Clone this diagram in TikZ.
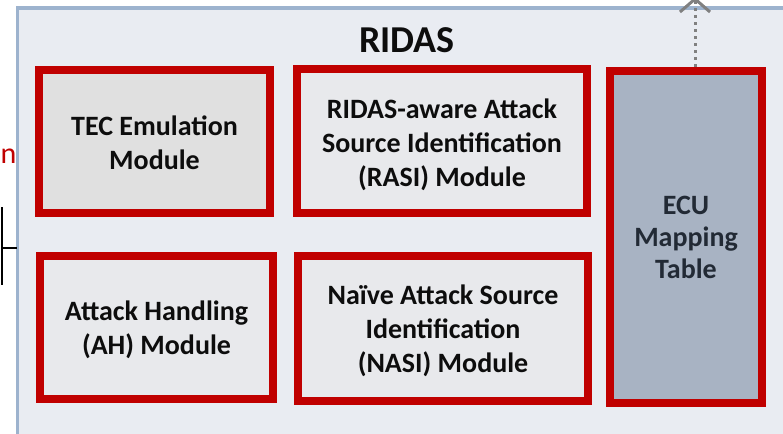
\documentclass[tikz,border=0pt]{standalone}
\usepackage{fontspec}
\setmainfont{Carlito}
\usetikzlibrary{arrows.meta}
\definecolor{frameblue}{HTML}{9DB3CE}
\definecolor{framefill}{HTML}{E9ECF2}
\definecolor{boxred}{HTML}{C00000}
\definecolor{modfill}{HTML}{E8E9EC}
\definecolor{tecfill}{HTML}{E0E0E0}
\definecolor{ecufill}{HTML}{A8B3C3}
\definecolor{ecutext}{HTML}{222A35}
\definecolor{txt}{HTML}{0D0D0D}
\tikzset{
  modbox/.style={draw=boxred, line width=8pt, fill=modfill, inner sep=0pt},
  modtext/.style={align=center, inner sep=0pt, font=\bfseries\fontsize{28}{34}\selectfont, text=txt},
}
\begin{document}
\begin{tikzpicture}[x=1pt,y=-1pt]
\useasboundingbox (0,0) rectangle (783,433);
\begin{scope}
\clip (0,0) rectangle (783,433);
\draw[draw=frameblue, fill=framefill, line width=3.5pt] (17.5,8) rectangle (820,470);
\node[modbox, fill=tecfill, minimum width=231pt, minimum height=143pt,
  label={[modtext, yshift=-1pt]center:{TEC Emulation\\Module}}] (tec) at (154.5,141.5) {};
\node[modbox, minimum width=290pt, minimum height=144pt,
  label={[modtext, yshift=-4pt]center:{RIDAS-aware Attack\\Source Identification\\(RASI) Module}}] (rasi) at (442,141) {};
\node[modbox, minimum width=233pt, minimum height=143pt,
  label={[modtext, yshift=-2pt]center:{Attack Handling\\(AH) Module}}] (ah) at (156.5,327.5) {};
\node[modbox, minimum width=290pt, minimum height=145pt,
  label={[modtext, yshift=-2pt]center:{Naïve Attack Source\\Identification\\(NASI) Module}}] (nasi) at (443,328.5) {};
\node[modbox, fill=ecufill, minimum width=152pt, minimum height=332pt,
  label={[modtext, text=ecutext, font=\bfseries\fontsize{28}{32}\selectfont]center:{ECU\\Mapping\\Table}}] (ecu) at (686,237) {};
\node[font=\bfseries\fontsize{38}{44}\selectfont, text=txt, inner sep=0pt] (title) at (407,40) {RIDAS};
\node[text=boxred, font=\fontsize{30}{36}\selectfont, inner sep=0pt, anchor=base west] (cut) at (0.5,163) {n};
\coordinate (up) at (695,-3);
\draw[color=gray, line width=3pt, dash pattern=on 3pt off 4pt, -{Straight Barb[length=13pt, width=30pt, line width=3pt]}] (ecu.north -| up) -- (up);
\coordinate (lt) at (2,207);
\coordinate (lb) at (2,285);
\coordinate (lm) at (2,248);
\coordinate (lr) at (17,248);
\draw[line width=2pt, black] (lt) -- (lb);
\draw[line width=2pt, black] (lm) -- (lr);
\end{scope}
\end{tikzpicture}
\end{document}
